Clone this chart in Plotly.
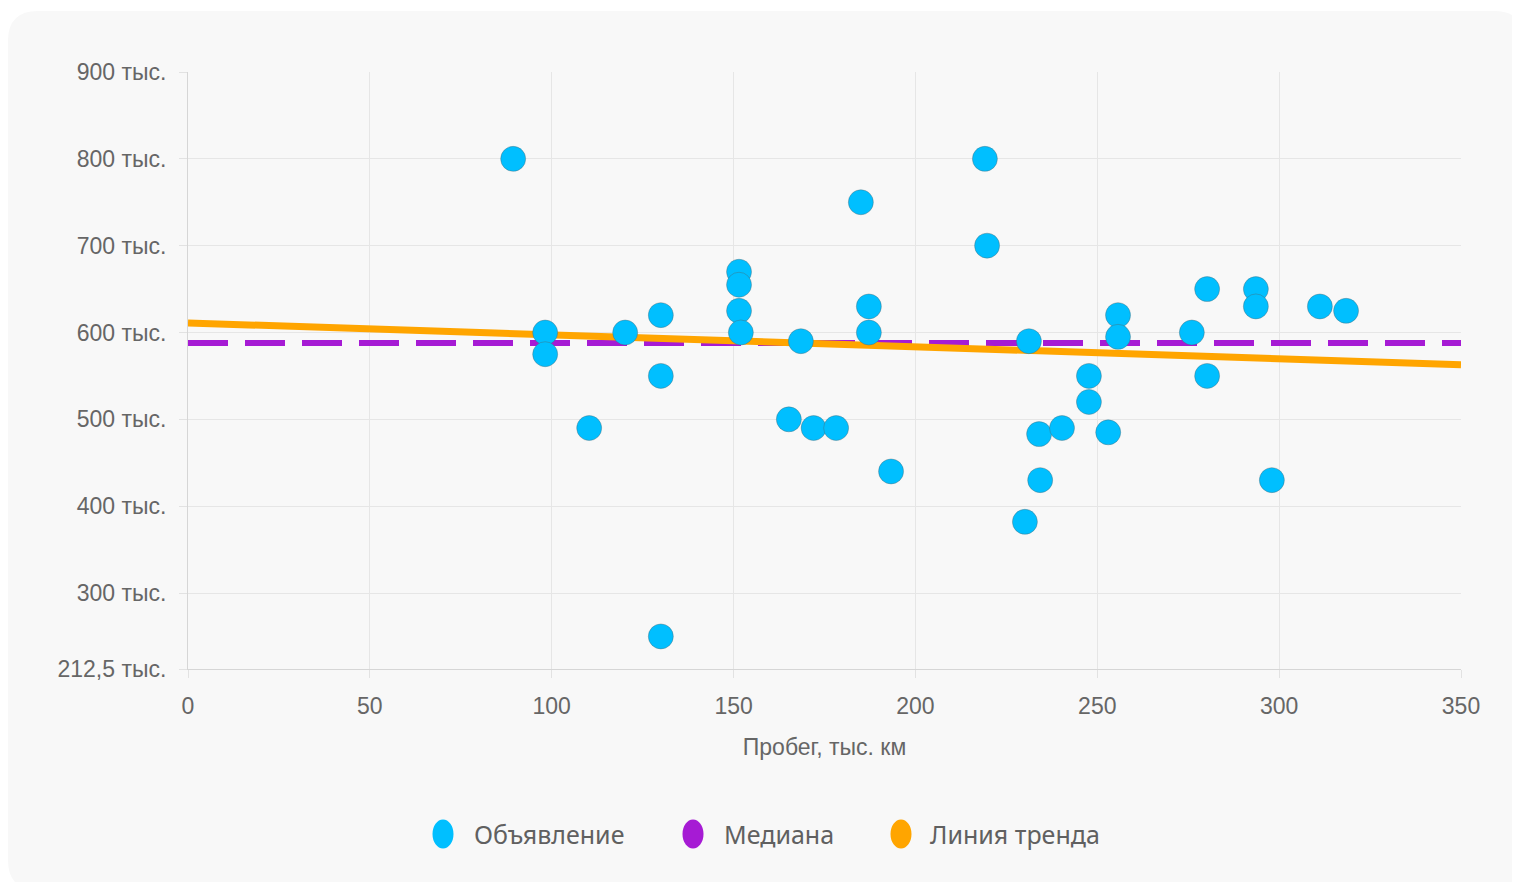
import plotly.graph_objects as go

# Data
mileage = [89.4, 98.2, 98.2, 110.3, 120.2, 130, 130, 130, 151.5, 151.5, 151.5, 152,
           165.2, 168.5, 172, 178.2, 185, 187.2, 187.2, 193.3, 219.1, 219.7, 230.1,
           231.2, 234, 234.3, 240.3, 247.7, 247.7, 253, 255.7, 255.7, 276, 280.2,
           280.2, 293.6, 293.6, 298, 311.2, 318.4]
price = [800, 600, 575, 490, 600, 620, 550, 250, 670, 655, 625, 600,
         500, 590, 490, 490, 750, 630, 600, 440, 800, 700, 382,
         590, 483, 430, 490, 550, 520, 485, 620, 595, 600, 650,
         550, 650, 630, 430, 630, 625]
median_price = 588
trend_x = [0, 350]
trend_y = [611, 563]
x_range = [0, 350]
y_range = [212.5, 900]
y_ticks = [212.5, 300, 400, 500, 600, 700, 800, 900]
y_tick_labels = ["212,5 тыс.", "300 тыс.", "400 тыс.", "500 тыс.", "600 тыс.",
                 "700 тыс.", "800 тыс.", "900 тыс."]
x_ticks = [0, 50, 100, 150, 200, 250, 300, 350]
series_names = ["Объявление", "Медиана", "Линия тренда"]

BLUE = "#00bfff"
PURPLE = "#a61bd4"
ORANGE = "#ffa500"
series_colors = [BLUE, PURPLE, ORANGE]

# page geometry (page has an 8px body margin)
OFF = 8
PAGE_W, PAGE_H = 1520, 882
PLOT_L, PLOT_R, PLOT_T, PLOT_B = 188, 1461, 72, 669
W, H = PAGE_W - OFF, PAGE_H - OFF
L = PLOT_L - OFF
T = PLOT_T - OFF
R = OFF + W - PLOT_R
B = OFF + H - PLOT_B
pw, ph = PLOT_R - PLOT_L, PLOT_B - PLOT_T


def px2x(p):
    return (p - PLOT_L) / pw


def py2y(p):
    return (PLOT_B - p) / ph


fig = go.Figure()

# median line
fig.add_trace(go.Scatter(x=x_range, y=[median_price, median_price], mode="lines",
                         line=dict(color=PURPLE, width=6, dash="40px,17px"),
                         showlegend=False, hoverinfo="skip"))
# trend line
fig.add_trace(go.Scatter(x=trend_x, y=trend_y, mode="lines",
                         line=dict(color=ORANGE, width=7),
                         showlegend=False, hoverinfo="skip"))
# points
fig.add_trace(go.Scatter(x=mileage, y=price, mode="markers", name=series_names[0],
                         marker=dict(size=25, color=BLUE,
                                     line=dict(width=1, color="rgba(90,90,90,0.35)")),
                         showlegend=False))

# card background with rounded corners
x0, x1, y0, y1, r = 8, 1524, 11, 890, 30


def P(px, py):
    return f"{px2x(px):.5f},{py2y(py):.5f}"


path = (f"M {P(x0 + r, y0)} L {P(x1 - r, y0)} Q {P(x1, y0)} {P(x1, y0 + r)} "
        f"L {P(x1, y1 - r)} Q {P(x1, y1)} {P(x1 - r, y1)} "
        f"L {P(x0 + r, y1)} Q {P(x0, y1)} {P(x0, y1 - r)} "
        f"L {P(x0, y0 + r)} Q {P(x0, y0)} {P(x0 + r, y0)} Z")
shapes = [dict(type="path", path=path, xref="paper", yref="paper",
               fillcolor="#f8f8f8", line=dict(width=0), layer="below")]

# custom legend (large circular symbols)
legend_symbol_cx = [443, 693, 901]
legend_text_x = [472, 722, 928]
legend_cy = 834
annotations = []
for cx, tx, nm, col in zip(legend_symbol_cx, legend_text_x, series_names, series_colors):
    shapes.append(dict(type="circle", xref="paper", yref="paper",
                       x0=px2x(cx - 10.5), x1=px2x(cx + 10.5),
                       y0=py2y(legend_cy + 14.5), y1=py2y(legend_cy - 14.5),
                       fillcolor=col, line=dict(width=0), layer="above"))
    annotations.append(dict(text=nm, xref="paper", yref="paper", x=px2x(tx),
                            y=py2y(legend_cy), xanchor="left", yanchor="middle",
                            showarrow=False,
                            font=dict(family="Noto Sans, sans-serif", size=25,
                                      color="#606060")))

tick_font = dict(family="Liberation Sans, Arial, sans-serif", size=23, color="#666666")

fig.update_layout(
    width=W, height=H,
    margin=dict(l=L, r=R, t=T, b=B),
    paper_bgcolor="white",
    plot_bgcolor="rgba(0,0,0,0)",
    showlegend=False,
    shapes=shapes,
    annotations=annotations,
    xaxis=dict(range=x_range, tickvals=x_ticks, ticks="outside", ticklen=8,
               tickcolor="#e2e2e2", gridcolor="#e6e6e6", gridwidth=1,
               showline=True, linecolor="#d6d6d6", linewidth=1, zeroline=False,
               tickfont=tick_font, ticklabelstandoff=8,
               title=dict(text="Пробег, тыс. км", font=tick_font, standoff=21)),
    yaxis=dict(range=y_range, tickvals=y_ticks, ticktext=y_tick_labels,
               ticks="outside", ticklen=8, tickcolor="#e2e2e2",
               gridcolor="#e6e6e6", gridwidth=1, showline=True, linecolor="#d6d6d6",
               linewidth=1, zeroline=False, tickfont=tick_font, ticklabelstandoff=8),
)

fig.write_html("out.html")
